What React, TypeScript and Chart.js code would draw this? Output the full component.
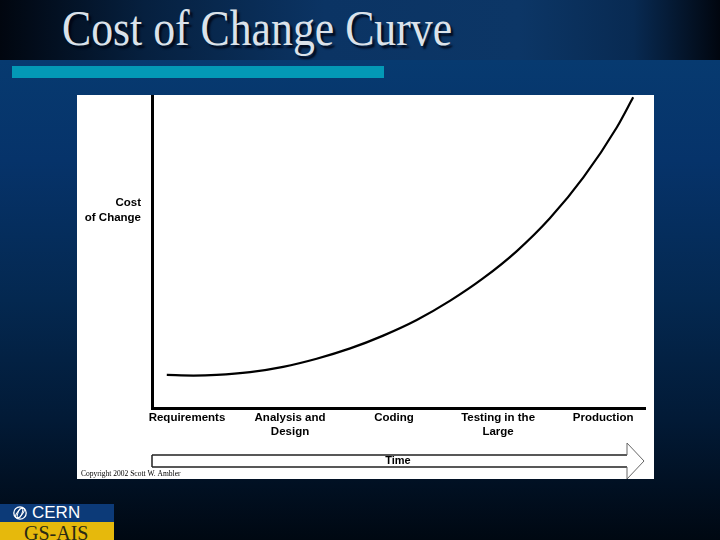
import React, { useEffect, useRef } from "react";
import { Chart, registerables } from "chart.js";

Chart.register(...registerables);

// ---- data ----
const PHASES: string[][] = [
  ["Requirements"],
  ["Analysis and", "Design"],
  ["Coding"],
  ["Testing in the", "Large"],
  ["Production"],
];
const PHASE_POS = [7.1, 28, 49.1, 70.2, 91.5];
const CURVE_X = [3, 8.4, 13.1, 19.9, 26.6, 33.4, 40.2, 46.9, 53.7, 60.5, 67.2, 74, 80.7, 87.5, 94.3, 97.6];
const CURVE_Y = [10.6, 10.4, 10.6, 11.5, 13.2, 15.8, 19.1, 23.2, 28.2, 34.4, 41.6, 50.3, 60.8, 73.9, 90, 99.6];
const Y_LABEL = ["Cost", "of Change"];
const X_LABEL = "Time";
const COPYRIGHT = "Copyright 2002 Scott W. Ambler";
const TITLE = "Cost of Change Curve";

const SANS = "'Liberation Sans', Arial, sans-serif";
const SERIF = "'Liberation Serif', 'Times New Roman', serif";

const extrasPlugin = {
  id: "extras",
  afterDraw(chart: any) {
    const { ctx, chartArea } = chart;
    const left = chartArea.left;
    const right = chartArea.right;
    ctx.save();
    // y label
    ctx.fillStyle = "#000";
    ctx.font = `bold 11.5px ${SANS}`;
    ctx.textAlign = "right";
    ctx.textBaseline = "middle";
    Y_LABEL.forEach((t, i) => ctx.fillText(t, left - 11, chartArea.top + 107 + i * 14.5));

    // time arrow
    const bodyTop = chartArea.bottom + 47;
    const bodyBot = chartArea.bottom + 59;
    const mid = (bodyTop + bodyBot) / 2;
    const headX = right - 18;
    const tipX = right - 1;
    ctx.beginPath();
    ctx.moveTo(left, bodyTop);
    ctx.lineTo(headX, bodyTop);
    ctx.lineTo(headX, mid - 18);
    ctx.lineTo(tipX, mid);
    ctx.lineTo(headX, mid + 18);
    ctx.lineTo(headX, bodyBot);
    ctx.lineTo(left, bodyBot);
    ctx.closePath();
    ctx.fillStyle = "#fff";
    ctx.fill();
    ctx.lineWidth = 1.5;
    ctx.strokeStyle = "#222";
    ctx.beginPath();
    ctx.moveTo(left, bodyTop);
    ctx.lineTo(headX, bodyTop);
    ctx.moveTo(left, bodyBot);
    ctx.lineTo(headX, bodyBot);
    ctx.moveTo(left, bodyTop);
    ctx.lineTo(left, bodyBot);
    ctx.stroke();
    ctx.lineWidth = 1;
    ctx.strokeStyle = "#666";
    ctx.beginPath();
    ctx.moveTo(headX, bodyTop);
    ctx.lineTo(headX, mid - 18);
    ctx.lineTo(tipX, mid);
    ctx.lineTo(headX, mid + 18);
    ctx.lineTo(headX, bodyBot);
    ctx.stroke();

    ctx.fillStyle = "#000";
    ctx.font = `bold 11px ${SANS}`;
    ctx.textAlign = "center";
    ctx.textBaseline = "middle";
    ctx.fillText(X_LABEL, (left + tipX) / 2, mid);

    // copyright
    ctx.font = `7.5px ${SERIF}`;
    ctx.textAlign = "left";
    ctx.textBaseline = "middle";
    ctx.fillText(COPYRIGHT, 4, chart.height - 5);
    ctx.restore();
  },
};

function CostChart() {
  const ref = useRef<HTMLCanvasElement | null>(null);
  useEffect(() => {
    if (!ref.current) return;
    const points = CURVE_X.map((x, i) => ({ x, y: CURVE_Y[i] }));
    const chart = new Chart(ref.current, {
      type: "line",
      data: {
        datasets: [
          {
            data: points,
            borderColor: "#000",
            borderWidth: 2.2,
            pointRadius: 0,
            cubicInterpolationMode: "monotone",
            fill: false,
            clip: false as any,
          },
        ],
      },
      options: {
        animation: false,
        responsive: false,
        events: [],
        layout: { padding: { top: 1, right: 9, left: 0, bottom: 0 } },
        plugins: { legend: { display: false }, tooltip: { enabled: false }, title: { display: false } },
        scales: {
          x: {
            type: "linear",
            min: 0,
            max: 100,
            grid: { display: false, drawTicks: false },
            border: { display: true, color: "#000", width: 3 },
            afterBuildTicks: (scale: any) => {
              scale.ticks = PHASE_POS.map((v) => ({ value: v }));
            },
            afterFit: (scale: any) => {
              scale.height = 71;
            },
            ticks: {
              autoSkip: false,
              maxRotation: 0,
              minRotation: 0,
              padding: 3,
              color: "#000",
              font: { family: SANS, size: 11.5, weight: "bold", lineHeight: 1.22 },
              callback: (_v: any, i: number) => PHASES[i],
            },
          },
          y: {
            type: "linear",
            min: 0,
            max: 100,
            grid: { display: false, drawTicks: false },
            border: { display: true, color: "#000", width: 3 },
            ticks: { display: false },
            afterFit: (scale: any) => {
              scale.width = 75;
            },
          },
        },
      },
      plugins: [extrasPlugin],
    } as any);
    return () => chart.destroy();
  }, []);
  return <canvas ref={ref} width={577} height={384} style={{ display: "block" }} />;
}

export default function App() {
  return (
    <div
      style={{
        position: "fixed",
        left: 0,
        top: 0,
        width: 720,
        height: 540,
        overflow: "hidden",
        background:
          "linear-gradient(to bottom, #073a70 60px, #06336a 160px, #042850 300px, #021a36 420px, #000812 540px)",
      }}
    >
      <div
        style={{
          position: "absolute",
          left: 0,
          top: 0,
          width: 720,
          height: 60,
          background:
            "linear-gradient(to right, #01060f 0%, #06203f 20%, #0b3464 45%, #0c3666 72%, #082a52 88%, #01060f 100%)",
        }}
      />
      <div
        style={{
          position: "absolute",
          left: 62,
          top: 3,
          fontFamily: SERIF,
          fontSize: 50,
          lineHeight: "50px",
          whiteSpace: "nowrap",
          color: "#dbe2ea",
          textShadow: "3px 3px 2px rgba(0,5,20,0.85)",
          transform: "scaleX(0.875)",
          transformOrigin: "left top",
        }}
      >
        {TITLE}
      </div>
      <div style={{ position: "absolute", left: 12, top: 66, width: 372, height: 12, background: "#0399b6" }} />
      <div style={{ position: "absolute", left: 77, top: 95, width: 577, height: 384, background: "#fff" }}>
        <CostChart />
      </div>
      <div style={{ position: "absolute", left: 0, top: 504, width: 114, height: 18, background: "#0c3a78" }}>
        <svg width={16} height={16} style={{ position: "absolute", left: 12, top: 1 }} viewBox="0 0 16 16">
          <circle cx={8} cy={8} r={6.2} fill="none" stroke="#fff" strokeWidth={1.3} />
          <ellipse cx={8} cy={8} rx={6} ry={2.5} fill="none" stroke="#fff" strokeWidth={1} transform="rotate(-50 8 8)" />
          <ellipse cx={8} cy={8} rx={2} ry={5.5} fill="none" stroke="#fff" strokeWidth={1} transform="rotate(20 8 8)" />
        </svg>
        <div
          style={{
            position: "absolute",
            left: 32,
            top: 0,
            fontFamily: SANS,
            fontSize: 17,
            lineHeight: "18px",
            color: "#fff",
          }}
        >
          CERN
        </div>
      </div>
      <div style={{ position: "absolute", left: 0, top: 522, width: 114, height: 18, background: "#e6b90c", overflow: "hidden" }}>
        <div
          style={{
            position: "absolute",
            left: 24,
            top: 1,
            fontFamily: SERIF,
            fontSize: 20,
            lineHeight: "20px",
            color: "#2a2a14",
            whiteSpace: "nowrap",
          }}
        >
          GS-AIS
        </div>
      </div>
    </div>
  );
}
